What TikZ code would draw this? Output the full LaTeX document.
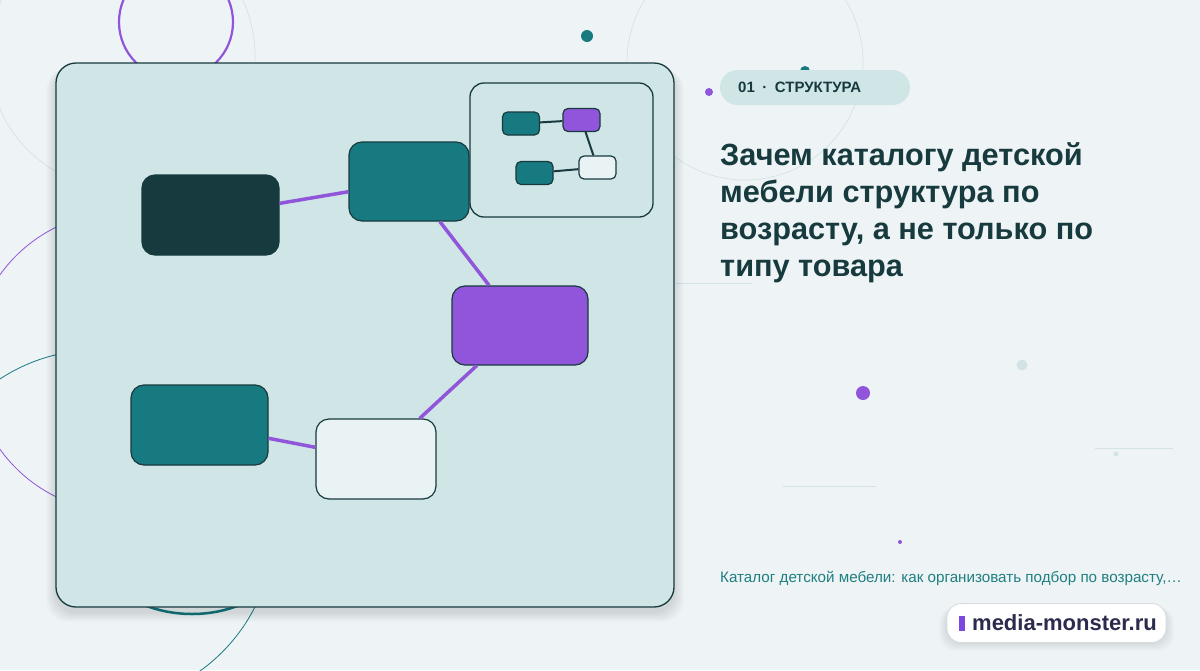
\documentclass[tikz,border=0pt]{standalone}
\usepackage{fontspec}
\setmainfont{Liberation Sans}
\usetikzlibrary{positioning}
\definecolor{bgcol}{HTML}{EEF4F5}
\definecolor{cardcol}{HTML}{CFE5E6}
\definecolor{darkcol}{HTML}{173A3E}
\definecolor{tealcol}{HTML}{177A80}
\definecolor{purpcol}{HTML}{9155DB}
\definecolor{palecol}{HTML}{E9F3F3}
\definecolor{faintcol}{HTML}{D3E3E5}
\definecolor{subcol}{HTML}{217F82}
\definecolor{logocol}{HTML}{2D2B4D}

\begin{document}
\begin{tikzpicture}[x=1pt,y=-1pt,
	box/.style={rounded corners=13pt,draw=darkcol,line width=1.2pt,minimum width=137pt,minimum height=80pt,inner sep=0pt},
	minibox/.style={rounded corners=5pt,draw=darkcol,line width=1.2pt,minimum width=37pt,minimum height=23pt,inner sep=0pt},
	link/.style={purpcol,line width=3.5pt},
	minilink/.style={darkcol,line width=2pt},
	faint/.style={faintcol,line width=0.8pt}
	]
	% background and margins
	\fill[bgcol] (0,0) rectangle (1200,670);
	\useasboundingbox (0,0) rectangle (1200,670);
	% decorative circles, lines and dots
	\draw[faintcol,line width=0.7pt] (122,56) circle (133pt);
	\draw[faintcol,line width=0.7pt] (745,62) circle (118pt);
	\draw[purpcol,line width=2.2pt] (176,22) circle (57pt);
	\draw[purpcol,line width=0.8pt] (122,362) circle (150pt);
	\draw[tealcol,line width=0.8pt] (97,527) circle (177pt);
	\draw[tealcol,line width=2.5pt] (192,482) circle (132pt);
	\draw[faint] (676,283) -- (752,283);
	\draw[faint] (1095,448) -- (1173,448);
	\draw[faint] (783,486) -- (876,486);
	\fill[tealcol] (587,36) circle (6pt);
	\fill[tealcol] (805,71) circle (5pt);
	\fill[purpcol] (709,92) circle (4pt);
	\fill[purpcol] (863,393) circle (7pt);
	\fill[faintcol] (1022,365) circle (5.5pt);
	\fill[faintcol] (1116,454) circle (2.5pt);
	\fill[purpcol] (900,542) circle (2pt);
	% card with soft shadow
	\foreach \i in {1,...,10}
		\fill[black,opacity=0.012,rounded corners=22pt] (56-\i,68) rectangle (674+\i,612+\i);
	\node[rounded corners=20pt,draw=darkcol,line width=1.3pt,fill=cardcol,minimum width=618pt,minimum height=544pt] (card) at (365,335) {};
	% small map in the corner
	\node[rounded corners=14pt,draw=darkcol,line width=1.3pt,fill=cardcol,minimum width=183pt,minimum height=134pt] (mini) at (561.5,150) {};
	\node[minibox,fill=tealcol] (m1) at (521,123.5) {};
	\node[minibox,fill=purpcol] (m2) at (581.5,120) {};
	\node[minibox,fill=tealcol] (m3) at (534.5,173) {};
	\node[minibox,fill=palecol] (m4) at (597.5,167.5) {};
	\draw[minilink] (m1) -- (m2);
	\draw[minilink] (m2) -- (m4);
	\draw[minilink] (m3) -- (m4);
	% main structure
	\node[box,fill=darkcol] (root) at (210.5,215) {};
	\node[box,fill=tealcol,minimum width=120pt,minimum height=79pt] (top) at (409,181.5) {};
	\node[box,fill=purpcol,minimum width=136pt,minimum height=79pt] (mid) at (520,325.5) {};
	\node[box,fill=tealcol] (left) at (199.5,425) {};
	\node[box,fill=palecol,minimum width=120pt] (leaf) at (376,459) {};
	\draw[link] (root) -- (top);
	\draw[link] (top) -- (mid);
	\draw[link] (mid) -- (leaf);
	\draw[link] (left) -- (leaf);
	% text column
	\node[rounded corners=17.5pt,fill=cardcol,minimum width=190pt,minimum height=35pt] (badge) at (815,87.5) {};
	\node[anchor=west,inner sep=0pt,font=\fontsize{15}{18}\selectfont\bfseries,text=darkcol] (badgetext) at (738,87.5) {01\enspace·\enspace СТРУКТУРА};
	\node[anchor=base west,align=left,inner sep=0pt,font=\fontsize{30.7}{37}\selectfont\bfseries,text=darkcol] (title) at (720,276) {Зачем каталогу детской\\мебели структура по\\возрасту, а не только по\\типу товара};
	\node[anchor=base west,inner sep=0pt,font=\fontsize{15.2}{18}\selectfont,text=subcol] (sub) at (720,582) {Каталог детской мебели: как организовать подбор по возрасту,…};
	% logo
	\foreach \i in {1,...,8}
		\fill[black,opacity=0.012,rounded corners=16pt] (947-\i,607) rectangle (1166+\i,643+\i);
	\node[rounded corners=14pt,draw=faintcol!70!gray!60,line width=0.8pt,fill=white,minimum width=219pt,minimum height=39pt] (logo) at (1056.5,623) {};
	\fill[purpcol!85!blue] (959,616) rectangle (965,631);
	\node[anchor=west,inner sep=0pt,font=\fontsize{22}{26}\selectfont\bfseries,text=logocol] (logotext) at (972,623) {media-monster.ru};
\end{tikzpicture}
\end{document}
